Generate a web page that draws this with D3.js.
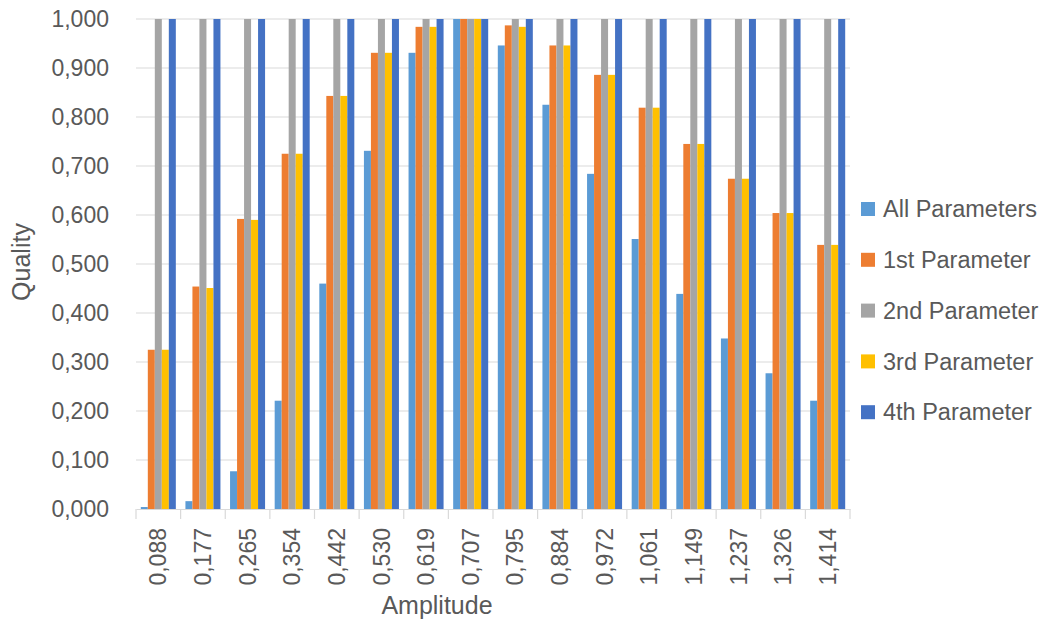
<!DOCTYPE html>
<html><head><meta charset="utf-8">
<script src="https://cdn.jsdelivr.net/npm/d3@7/dist/d3.min.js"></script>
<style>body{margin:0;background:#fff}svg{display:block}</style>
</head><body>
<svg id="c" width="1049" height="624"></svg>
<script>
const categories = ["0,088","0,177","0,265","0,354","0,442","0,530","0,619","0,707","0,795","0,884","0,972","1,061","1,149","1,237","1,326","1,414"];
const seriesNames = ["All Parameters","1st Parameter","2nd Parameter","3rd Parameter","4th Parameter"];
const allParams = [0.004,0.016,0.077,0.221,0.460,0.731,0.931,1.000,0.946,0.825,0.684,0.551,0.439,0.348,0.277,0.221];
const param1 = [0.325,0.454,0.592,0.725,0.843,0.931,0.984,1.000,0.987,0.946,0.886,0.819,0.745,0.674,0.604,0.539];
const param2 = [1,1,1,1,1,1,1,1,1,1,1,1,1,1,1,1];
const param3 = [0.325,0.451,0.590,0.725,0.843,0.931,0.984,1.000,0.984,0.946,0.886,0.819,0.745,0.674,0.604,0.539];
const param4 = [1,1,1,1,1,1,1,1,1,1,1,1,1,1,1,1];
const yTicks = [0,0.1,0.2,0.3,0.4,0.5,0.6,0.7,0.8,0.9,1.0];
const colors = ["#5B9BD5","#ED7D31","#A5A5A5","#FFC000","#4472C4"];
const seriesValues = [allParams,param1,param2,param3,param4];

const svg = d3.select("#c");
const font = "'Liberation Sans', Arial, sans-serif";
const textColor = "#595959";
const L = 136, R = 850, T = 19, B = 509;

const x0 = d3.scaleBand().domain(categories).range([L, R]).padding(0);
const x1 = d3.scaleBand().domain(seriesNames).range([0, x0.bandwidth()]).paddingInner(0).paddingOuter(0.686);
const y = d3.scaleLinear().domain([0, 1]).range([B, T]);
const fmt = v => d3.format(".3f")(v).replace(".", ",");

// gridlines
svg.append("g").selectAll("line").data(yTicks.filter(d => d > 0)).join("line")
  .attr("x1", L).attr("x2", R).attr("y1", d => y(d)).attr("y2", d => y(d))
  .attr("stroke", "#d9d9d9").attr("stroke-width", 1.2);

// y axis labels
const yAxis = d3.axisLeft(y).tickValues(yTicks).tickFormat(fmt).tickSize(0).tickPadding(0);
const gy = svg.append("g").attr("transform", `translate(${L - 27},0)`).call(yAxis);
gy.select(".domain").remove();
gy.selectAll("text").attr("font-family", font).attr("font-size", 23).attr("fill", textColor);

// bars
const g = svg.append("g");
categories.forEach((c, i) => {
  seriesNames.forEach((s, j) => {
    const v = seriesValues[j][i];
    g.append("rect")
      .attr("x", x0(c) + x1(s))
      .attr("y", y(v))
      .attr("width", x1.bandwidth())
      .attr("height", y(0) - y(v))
      .attr("fill", colors[j]);
  });
});

// x axis
const xAxis = d3.axisBottom(x0).tickSize(0).tickPadding(0);
const gx = svg.append("g").attr("transform", `translate(0,${B})`).call(xAxis);
gx.select(".domain").attr("stroke", "#d9d9d9").attr("stroke-width", 1.2);
gx.selectAll("text")
  .attr("font-family", font).attr("font-size", 23).attr("fill", textColor)
  .attr("transform", "rotate(-90)")
  .attr("text-anchor", "end")
  .attr("x", -19).attr("y", 0).attr("dy", "0.35em");
// boundary ticks
const bounds = categories.map(c => x0(c)).concat([R]);
gx.append("g").selectAll("line").data(bounds).join("line")
  .attr("x1", d => d).attr("x2", d => d).attr("y1", 0).attr("y2", 10)
  .attr("stroke", "#d9d9d9").attr("stroke-width", 1.2);

// axis titles
svg.append("text").attr("x", (L + R) / 2 - 56).attr("y", 614)
  .attr("text-anchor", "middle").attr("font-family", font).attr("font-size", 25)
  .attr("fill", textColor).text("Amplitude");
svg.append("text").attr("transform", "translate(30,262) rotate(-90)")
  .attr("text-anchor", "middle").attr("font-family", font).attr("font-size", 25)
  .attr("fill", textColor).text("Quality");

// legend
const lg = svg.append("g").selectAll("g").data(seriesNames).join("g")
  .attr("transform", (d, i) => `translate(861,${209 + i * 50.8})`);
lg.append("rect").attr("x", 0).attr("y", -7).attr("width", 14).attr("height", 14)
  .attr("fill", (d, i) => colors[i]);
lg.append("text").attr("x", 22).attr("y", 0).attr("dy", "0.35em")
  .attr("font-family", font).attr("font-size", 23.5).attr("fill", textColor).text(d => d);
</script>
</body></html>
